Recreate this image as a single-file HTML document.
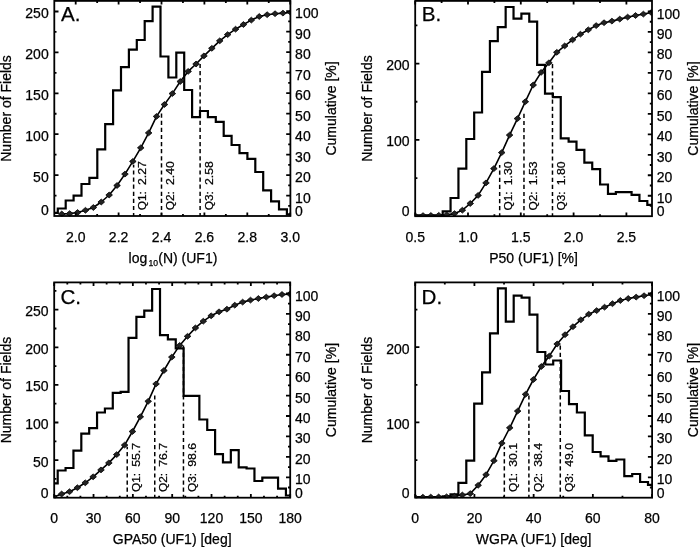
<!DOCTYPE html>
<html><head><meta charset="utf-8"><title>Figure</title><style>
html,body{margin:0;padding:0;background:#fff;}
svg{display:block;will-change:transform;}
text{font-family:"Liberation Sans",sans-serif;font-size:14px;fill:#000;stroke:#000;stroke-width:0.25px;}
text.q{font-size:11.3px;}
text.p{font-size:20.6px;}
</style></head><body>
<svg width="700" height="547" viewBox="0 0 700 547">
<rect width="700" height="547" fill="#fff"/>
<clipPath id="clip0"><rect x="54.3" y="-0.1" width="236.1" height="216.6"/></clipPath>
<g clip-path="url(#clip0)">
<path d="M52.3,216 L49.9,212.9 L57.8,212.9 L57.8,208.5 L65.7,208.5 L65.7,200.5 L73.6,200.5 L73.6,195.7 L81.5,195.7 L81.5,184 L89.4,184 L89.4,177.9 L97.3,177.9 L97.3,149.3 L105.2,149.3 L105.2,124.1 L113.1,124.1 L113.1,90.4 L121,90.4 L121,67.1 L128.9,67.1 L128.9,49.7 L136.8,49.7 L136.8,40 L144.7,40 L144.7,21.2 L152.6,21.2 L152.6,6.6 L160.5,6.6 L160.5,56.5 L168.4,56.5 L168.4,77.5 L176.3,77.5 L176.3,52.7 L184.2,52.7 L184.2,90 L192.1,90 L192.1,117.1 L200,117.1 L200,111 L207.9,111 L207.9,117.1 L215.8,117.1 L215.8,121.9 L223.7,121.9 L223.7,135.8 L231.6,135.8 L231.6,145 L239.5,145 L239.5,153.1 L247.4,153.1 L247.4,158.8 L255.3,158.8 L255.3,172 L263.2,172 L263.2,190.4 L271.1,190.4 L271.1,201.4 L279,201.4 L279,209.3 L286.9,209.3 L286.9,214.3 L294.8,214.3 L294.8,216" fill="none" stroke="#000" stroke-width="2.2" stroke-linejoin="miter" stroke-linecap="square"/>
<line x1="133.62" y1="216" x2="133.62" y2="164.85" stroke="#000" stroke-width="1.5" stroke-dasharray="4.2 2.9" stroke-dashoffset="1.2"/>
<line x1="161.5" y1="216" x2="161.5" y2="113.6" stroke="#000" stroke-width="1.5" stroke-dasharray="4.2 2.9" stroke-dashoffset="1.2"/>
<line x1="200.11" y1="216" x2="200.11" y2="62.35" stroke="#000" stroke-width="1.5" stroke-dasharray="4.2 2.9" stroke-dashoffset="1.2"/>
<path d="M61.75,214 L69.65,213.6 L77.55,212.5 L85.45,210.3 L93.35,207.5 L101.25,202 L109.15,195 L117.05,185.5 L124.95,174.1 L132.85,161.4 L140.75,147.8 L148.65,132.9 L156.55,116.4 L164.45,104.5 L172.35,93.6 L180.25,81.5 L188.15,71.4 L196.05,64 L203.95,55.9 L211.85,48.3 L219.75,40.8 L227.65,34.6 L235.55,29.2 L243.45,24.5 L251.35,20.1 L259.25,16.5 L267.15,14.7 L275.05,13.7 L282.95,13.1 L290.85,12.5" fill="none" stroke="#000" stroke-width="1.6" stroke-linejoin="round"/>
<path d="M58.45,214 l3.3,-2.9 l3.3,2.9 l-3.3,2.9 z" fill="#222" stroke="#000" stroke-width="0.8"/>
<path d="M66.35,213.6 l3.3,-2.9 l3.3,2.9 l-3.3,2.9 z" fill="#222" stroke="#000" stroke-width="0.8"/>
<path d="M74.25,212.5 l3.3,-2.9 l3.3,2.9 l-3.3,2.9 z" fill="#222" stroke="#000" stroke-width="0.8"/>
<path d="M82.15,210.3 l3.3,-2.9 l3.3,2.9 l-3.3,2.9 z" fill="#222" stroke="#000" stroke-width="0.8"/>
<path d="M90.05,207.5 l3.3,-2.9 l3.3,2.9 l-3.3,2.9 z" fill="#222" stroke="#000" stroke-width="0.8"/>
<path d="M97.95,202 l3.3,-2.9 l3.3,2.9 l-3.3,2.9 z" fill="#222" stroke="#000" stroke-width="0.8"/>
<path d="M105.85,195 l3.3,-2.9 l3.3,2.9 l-3.3,2.9 z" fill="#222" stroke="#000" stroke-width="0.8"/>
<path d="M113.75,185.5 l3.3,-2.9 l3.3,2.9 l-3.3,2.9 z" fill="#222" stroke="#000" stroke-width="0.8"/>
<path d="M121.65,174.1 l3.3,-2.9 l3.3,2.9 l-3.3,2.9 z" fill="#222" stroke="#000" stroke-width="0.8"/>
<path d="M129.55,161.4 l3.3,-2.9 l3.3,2.9 l-3.3,2.9 z" fill="#222" stroke="#000" stroke-width="0.8"/>
<path d="M137.45,147.8 l3.3,-2.9 l3.3,2.9 l-3.3,2.9 z" fill="#222" stroke="#000" stroke-width="0.8"/>
<path d="M145.35,132.9 l3.3,-2.9 l3.3,2.9 l-3.3,2.9 z" fill="#222" stroke="#000" stroke-width="0.8"/>
<path d="M153.25,116.4 l3.3,-2.9 l3.3,2.9 l-3.3,2.9 z" fill="#222" stroke="#000" stroke-width="0.8"/>
<path d="M161.15,104.5 l3.3,-2.9 l3.3,2.9 l-3.3,2.9 z" fill="#222" stroke="#000" stroke-width="0.8"/>
<path d="M169.05,93.6 l3.3,-2.9 l3.3,2.9 l-3.3,2.9 z" fill="#222" stroke="#000" stroke-width="0.8"/>
<path d="M176.95,81.5 l3.3,-2.9 l3.3,2.9 l-3.3,2.9 z" fill="#222" stroke="#000" stroke-width="0.8"/>
<path d="M184.85,71.4 l3.3,-2.9 l3.3,2.9 l-3.3,2.9 z" fill="#222" stroke="#000" stroke-width="0.8"/>
<path d="M192.75,64 l3.3,-2.9 l3.3,2.9 l-3.3,2.9 z" fill="#222" stroke="#000" stroke-width="0.8"/>
<path d="M200.65,55.9 l3.3,-2.9 l3.3,2.9 l-3.3,2.9 z" fill="#222" stroke="#000" stroke-width="0.8"/>
<path d="M208.55,48.3 l3.3,-2.9 l3.3,2.9 l-3.3,2.9 z" fill="#222" stroke="#000" stroke-width="0.8"/>
<path d="M216.45,40.8 l3.3,-2.9 l3.3,2.9 l-3.3,2.9 z" fill="#222" stroke="#000" stroke-width="0.8"/>
<path d="M224.35,34.6 l3.3,-2.9 l3.3,2.9 l-3.3,2.9 z" fill="#222" stroke="#000" stroke-width="0.8"/>
<path d="M232.25,29.2 l3.3,-2.9 l3.3,2.9 l-3.3,2.9 z" fill="#222" stroke="#000" stroke-width="0.8"/>
<path d="M240.15,24.5 l3.3,-2.9 l3.3,2.9 l-3.3,2.9 z" fill="#222" stroke="#000" stroke-width="0.8"/>
<path d="M248.05,20.1 l3.3,-2.9 l3.3,2.9 l-3.3,2.9 z" fill="#222" stroke="#000" stroke-width="0.8"/>
<path d="M255.95,16.5 l3.3,-2.9 l3.3,2.9 l-3.3,2.9 z" fill="#222" stroke="#000" stroke-width="0.8"/>
<path d="M263.85,14.7 l3.3,-2.9 l3.3,2.9 l-3.3,2.9 z" fill="#222" stroke="#000" stroke-width="0.8"/>
<path d="M271.75,13.7 l3.3,-2.9 l3.3,2.9 l-3.3,2.9 z" fill="#222" stroke="#000" stroke-width="0.8"/>
<path d="M279.65,13.1 l3.3,-2.9 l3.3,2.9 l-3.3,2.9 z" fill="#222" stroke="#000" stroke-width="0.8"/>
<path d="M287.55,12.5 l3.3,-2.9 l3.3,2.9 l-3.3,2.9 z" fill="#222" stroke="#000" stroke-width="0.8"/>
</g>
<rect x="54.3" y="0.9" width="236.1" height="215.1" fill="none" stroke="#000" stroke-width="1.8"/>
<path d="M75.7,216L75.7,212.4M75.7,0.9L75.7,4.5M118.6,216L118.6,212.4M118.6,0.9L118.6,4.5M161.5,216L161.5,212.4M161.5,0.9L161.5,4.5M204.4,216L204.4,212.4M204.4,0.9L204.4,4.5M247.3,216L247.3,212.4M247.3,0.9L247.3,4.5M290.2,216L290.2,212.4M290.2,0.9L290.2,4.5M97.15,216L97.15,214M97.15,0.9L97.15,2.9M140.05,216L140.05,214M140.05,0.9L140.05,2.9M182.95,216L182.95,214M182.95,0.9L182.95,2.9M225.85,216L225.85,214M225.85,0.9L225.85,2.9M268.75,216L268.75,214M268.75,0.9L268.75,2.9M54.3,175.1L58.5,175.1M54.3,134.2L58.5,134.2M54.3,93.3L58.5,93.3M54.3,52.4L58.5,52.4M54.3,11.5L58.5,11.5M54.3,195.55L56.5,195.55M54.3,154.65L56.5,154.65M54.3,113.75L56.5,113.75M54.3,72.85L56.5,72.85M54.3,31.95L56.5,31.95M290.4,195.6L286.2,195.6M290.4,175.1L286.2,175.1M290.4,154.6L286.2,154.6M290.4,134.1L286.2,134.1M290.4,113.6L286.2,113.6M290.4,93.1L286.2,93.1M290.4,72.6L286.2,72.6M290.4,52.1L286.2,52.1M290.4,31.6L286.2,31.6M290.4,11.1L286.2,11.1M290.4,205.85L288.2,205.85M290.4,185.35L288.2,185.35M290.4,164.85L288.2,164.85M290.4,144.35L288.2,144.35M290.4,123.85L288.2,123.85M290.4,103.35L288.2,103.35M290.4,82.85L288.2,82.85M290.4,62.35L288.2,62.35M290.4,41.85L288.2,41.85M290.4,21.35L288.2,21.35" stroke="#000" stroke-width="1.8" fill="none"/>
<text x="75.7" y="241.5" text-anchor="middle">2.0</text>
<text x="118.6" y="241.5" text-anchor="middle">2.2</text>
<text x="161.5" y="241.5" text-anchor="middle">2.4</text>
<text x="204.4" y="241.5" text-anchor="middle">2.6</text>
<text x="247.3" y="241.5" text-anchor="middle">2.8</text>
<text x="290.2" y="241.5" text-anchor="middle">3.0</text>
<text x="48.7" y="215.2" text-anchor="end">0</text>
<text x="48.7" y="181.6" text-anchor="end">50</text>
<text x="48.7" y="140.7" text-anchor="end">100</text>
<text x="48.7" y="99.8" text-anchor="end">150</text>
<text x="48.7" y="58.9" text-anchor="end">200</text>
<text x="48.7" y="18" text-anchor="end">250</text>
<text x="295.1" y="216.2">0</text>
<text x="295.1" y="202.6">10</text>
<text x="295.1" y="182.1">20</text>
<text x="295.1" y="161.6">30</text>
<text x="295.1" y="141.1">40</text>
<text x="295.1" y="120.6">50</text>
<text x="295.1" y="100.1">60</text>
<text x="295.1" y="79.6">70</text>
<text x="295.1" y="59.1">80</text>
<text x="295.1" y="38.6">90</text>
<text x="295.1" y="18.1">100</text>
<text class="q" transform="translate(146.22,210.3) rotate(-90) scale(1.05,1)">Q1:</text>
<text class="q" transform="translate(146.22,185) rotate(-90) scale(1.08,1)">2.27</text>
<text class="q" transform="translate(174.1,210.3) rotate(-90) scale(1.05,1)">Q2:</text>
<text class="q" transform="translate(174.1,185) rotate(-90) scale(1.08,1)">2.40</text>
<text class="q" transform="translate(212.71,210.3) rotate(-90) scale(1.05,1)">Q3:</text>
<text class="q" transform="translate(212.71,185) rotate(-90) scale(1.08,1)">2.58</text>
<text class="p" x="60.9" y="21.2">A.</text>
<text x="172.95" y="262.5" text-anchor="middle">log<tspan font-size="8.6" dx="1.2" dy="3.8">10</tspan><tspan dx="0.3" dy="-3.8">(N) (UF1)</tspan></text>
<text transform="translate(10.6,108.45) rotate(-90)" text-anchor="middle">Number of Fields</text>
<text transform="translate(336.2,108.45) rotate(-90)" text-anchor="middle">Cumulative [%]</text>
<clipPath id="clip1"><rect x="415.2" y="-0.1" width="236.8" height="216.8"/></clipPath>
<g clip-path="url(#clip1)">
<path d="M413.2,216.2 L403.35,215.4 L411.22,215.4 L411.22,215.4 L419.09,215.4 L419.09,215.4 L426.96,215.4 L426.96,215.4 L434.83,215.4 L434.83,216.2 L442.7,216.2 L442.7,211.4 L450.57,211.4 L450.57,198 L458.44,198 L458.44,168.6 L466.31,168.6 L466.31,139 L474.18,139 L474.18,112.5 L482.05,112.5 L482.05,71.9 L489.92,71.9 L489.92,41.2 L497.79,41.2 L497.79,27.1 L505.66,27.1 L505.66,7 L513.53,7 L513.53,18.7 L521.4,18.7 L521.4,13.7 L529.27,13.7 L529.27,21.7 L537.14,21.7 L537.14,64.8 L545.01,64.8 L545.01,93.6 L552.88,93.6 L552.88,97.2 L560.75,97.2 L560.75,138.4 L568.62,138.4 L568.62,141.7 L576.49,141.7 L576.49,149.8 L584.36,149.8 L584.36,162.6 L592.23,162.6 L592.23,169.1 L600.1,169.1 L600.1,184.5 L607.97,184.5 L607.97,193.9 L615.84,193.9 L615.84,192.2 L623.71,192.2 L623.71,192.2 L631.58,192.2 L631.58,194.8 L639.45,194.8 L639.45,201 L647.32,201 L647.32,204.9 L655.19,204.9 L655.19,216.2" fill="none" stroke="#000" stroke-width="2.2" stroke-linejoin="miter" stroke-linecap="square"/>
<line x1="499.68" y1="216.2" x2="499.68" y2="165.02" stroke="#000" stroke-width="1.5" stroke-dasharray="4.2 2.9" stroke-dashoffset="1.2"/>
<line x1="523.97" y1="216.2" x2="523.97" y2="113.85" stroke="#000" stroke-width="1.5" stroke-dasharray="4.2 2.9" stroke-dashoffset="1.2"/>
<line x1="552.48" y1="216.2" x2="552.48" y2="62.67" stroke="#000" stroke-width="1.5" stroke-dasharray="4.2 2.9" stroke-dashoffset="1.2"/>
<path d="M415.15,215.8 L423.02,215.6 L430.89,215.5 L438.76,215.3 L446.63,214.9 L454.5,213.6 L462.38,210.2 L470.25,203.5 L478.12,195.4 L485.99,182.9 L493.86,168.6 L501.72,152.6 L509.59,135.1 L517.47,118.6 L525.34,101.7 L533.2,85 L541.08,72.4 L548.94,62.8 L556.81,52.3 L564.68,45.9 L572.55,39.8 L580.42,34.2 L588.29,29.8 L596.16,25.6 L604.03,22.7 L611.9,21.1 L619.77,19.1 L627.64,17.1 L635.51,15.5 L643.38,14.1 L651.25,12.5" fill="none" stroke="#000" stroke-width="1.6" stroke-linejoin="round"/>
<path d="M411.85,215.8 l3.3,-2.9 l3.3,2.9 l-3.3,2.9 z" fill="#222" stroke="#000" stroke-width="0.8"/>
<path d="M419.72,215.6 l3.3,-2.9 l3.3,2.9 l-3.3,2.9 z" fill="#222" stroke="#000" stroke-width="0.8"/>
<path d="M427.59,215.5 l3.3,-2.9 l3.3,2.9 l-3.3,2.9 z" fill="#222" stroke="#000" stroke-width="0.8"/>
<path d="M435.46,215.3 l3.3,-2.9 l3.3,2.9 l-3.3,2.9 z" fill="#222" stroke="#000" stroke-width="0.8"/>
<path d="M443.33,214.9 l3.3,-2.9 l3.3,2.9 l-3.3,2.9 z" fill="#222" stroke="#000" stroke-width="0.8"/>
<path d="M451.2,213.6 l3.3,-2.9 l3.3,2.9 l-3.3,2.9 z" fill="#222" stroke="#000" stroke-width="0.8"/>
<path d="M459.07,210.2 l3.3,-2.9 l3.3,2.9 l-3.3,2.9 z" fill="#222" stroke="#000" stroke-width="0.8"/>
<path d="M466.94,203.5 l3.3,-2.9 l3.3,2.9 l-3.3,2.9 z" fill="#222" stroke="#000" stroke-width="0.8"/>
<path d="M474.81,195.4 l3.3,-2.9 l3.3,2.9 l-3.3,2.9 z" fill="#222" stroke="#000" stroke-width="0.8"/>
<path d="M482.69,182.9 l3.3,-2.9 l3.3,2.9 l-3.3,2.9 z" fill="#222" stroke="#000" stroke-width="0.8"/>
<path d="M490.56,168.6 l3.3,-2.9 l3.3,2.9 l-3.3,2.9 z" fill="#222" stroke="#000" stroke-width="0.8"/>
<path d="M498.42,152.6 l3.3,-2.9 l3.3,2.9 l-3.3,2.9 z" fill="#222" stroke="#000" stroke-width="0.8"/>
<path d="M506.29,135.1 l3.3,-2.9 l3.3,2.9 l-3.3,2.9 z" fill="#222" stroke="#000" stroke-width="0.8"/>
<path d="M514.17,118.6 l3.3,-2.9 l3.3,2.9 l-3.3,2.9 z" fill="#222" stroke="#000" stroke-width="0.8"/>
<path d="M522.04,101.7 l3.3,-2.9 l3.3,2.9 l-3.3,2.9 z" fill="#222" stroke="#000" stroke-width="0.8"/>
<path d="M529.9,85 l3.3,-2.9 l3.3,2.9 l-3.3,2.9 z" fill="#222" stroke="#000" stroke-width="0.8"/>
<path d="M537.78,72.4 l3.3,-2.9 l3.3,2.9 l-3.3,2.9 z" fill="#222" stroke="#000" stroke-width="0.8"/>
<path d="M545.64,62.8 l3.3,-2.9 l3.3,2.9 l-3.3,2.9 z" fill="#222" stroke="#000" stroke-width="0.8"/>
<path d="M553.51,52.3 l3.3,-2.9 l3.3,2.9 l-3.3,2.9 z" fill="#222" stroke="#000" stroke-width="0.8"/>
<path d="M561.38,45.9 l3.3,-2.9 l3.3,2.9 l-3.3,2.9 z" fill="#222" stroke="#000" stroke-width="0.8"/>
<path d="M569.25,39.8 l3.3,-2.9 l3.3,2.9 l-3.3,2.9 z" fill="#222" stroke="#000" stroke-width="0.8"/>
<path d="M577.12,34.2 l3.3,-2.9 l3.3,2.9 l-3.3,2.9 z" fill="#222" stroke="#000" stroke-width="0.8"/>
<path d="M585,29.8 l3.3,-2.9 l3.3,2.9 l-3.3,2.9 z" fill="#222" stroke="#000" stroke-width="0.8"/>
<path d="M592.87,25.6 l3.3,-2.9 l3.3,2.9 l-3.3,2.9 z" fill="#222" stroke="#000" stroke-width="0.8"/>
<path d="M600.74,22.7 l3.3,-2.9 l3.3,2.9 l-3.3,2.9 z" fill="#222" stroke="#000" stroke-width="0.8"/>
<path d="M608.61,21.1 l3.3,-2.9 l3.3,2.9 l-3.3,2.9 z" fill="#222" stroke="#000" stroke-width="0.8"/>
<path d="M616.48,19.1 l3.3,-2.9 l3.3,2.9 l-3.3,2.9 z" fill="#222" stroke="#000" stroke-width="0.8"/>
<path d="M624.35,17.1 l3.3,-2.9 l3.3,2.9 l-3.3,2.9 z" fill="#222" stroke="#000" stroke-width="0.8"/>
<path d="M632.22,15.5 l3.3,-2.9 l3.3,2.9 l-3.3,2.9 z" fill="#222" stroke="#000" stroke-width="0.8"/>
<path d="M640.09,14.1 l3.3,-2.9 l3.3,2.9 l-3.3,2.9 z" fill="#222" stroke="#000" stroke-width="0.8"/>
<path d="M647.96,12.5 l3.3,-2.9 l3.3,2.9 l-3.3,2.9 z" fill="#222" stroke="#000" stroke-width="0.8"/>
</g>
<rect x="415.2" y="0.9" width="236.8" height="215.3" fill="none" stroke="#000" stroke-width="1.8"/>
<path d="M415.2,216.2L415.2,212.6M415.2,0.9L415.2,4.5M468,216.2L468,212.6M468,0.9L468,4.5M520.8,216.2L520.8,212.6M520.8,0.9L520.8,4.5M573.6,216.2L573.6,212.6M573.6,0.9L573.6,4.5M626.4,216.2L626.4,212.6M626.4,0.9L626.4,4.5M441.6,216.2L441.6,214.2M441.6,0.9L441.6,2.9M494.4,216.2L494.4,214.2M494.4,0.9L494.4,2.9M547.2,216.2L547.2,214.2M547.2,0.9L547.2,2.9M600,216.2L600,214.2M600,0.9L600,2.9M415.2,139.9L419.4,139.9M415.2,63.6L419.4,63.6M415.2,178.05L417.4,178.05M415.2,101.75L417.4,101.75M415.2,25.45L417.4,25.45M652,195.73L647.8,195.73M652,175.26L647.8,175.26M652,154.79L647.8,154.79M652,134.32L647.8,134.32M652,113.85L647.8,113.85M652,93.38L647.8,93.38M652,72.91L647.8,72.91M652,52.44L647.8,52.44M652,31.97L647.8,31.97M652,11.5L647.8,11.5M652,205.96L649.8,205.96M652,185.49L649.8,185.49M652,165.02L649.8,165.02M652,144.55L649.8,144.55M652,124.08L649.8,124.08M652,103.61L649.8,103.61M652,83.14L649.8,83.14M652,62.67L649.8,62.67M652,42.2L649.8,42.2M652,21.73L649.8,21.73" stroke="#000" stroke-width="1.8" fill="none"/>
<text x="415.2" y="241.7" text-anchor="middle">0.5</text>
<text x="468" y="241.7" text-anchor="middle">1.0</text>
<text x="520.8" y="241.7" text-anchor="middle">1.5</text>
<text x="573.6" y="241.7" text-anchor="middle">2.0</text>
<text x="626.4" y="241.7" text-anchor="middle">2.5</text>
<text x="409.6" y="216.2" text-anchor="end">0</text>
<text x="409.6" y="146.4" text-anchor="end">100</text>
<text x="409.6" y="70.1" text-anchor="end">200</text>
<text x="656.7" y="216.4">0</text>
<text x="656.7" y="202.73">10</text>
<text x="656.7" y="182.26">20</text>
<text x="656.7" y="161.79">30</text>
<text x="656.7" y="141.32">40</text>
<text x="656.7" y="120.85">50</text>
<text x="656.7" y="100.38">60</text>
<text x="656.7" y="79.91">70</text>
<text x="656.7" y="59.44">80</text>
<text x="656.7" y="38.97">90</text>
<text x="656.7" y="18.5">100</text>
<text class="q" transform="translate(512.28,210.5) rotate(-90) scale(1.05,1)">Q1:</text>
<text class="q" transform="translate(512.28,185.2) rotate(-90) scale(1.08,1)">1.30</text>
<text class="q" transform="translate(536.57,210.5) rotate(-90) scale(1.05,1)">Q2:</text>
<text class="q" transform="translate(536.57,185.2) rotate(-90) scale(1.08,1)">1.53</text>
<text class="q" transform="translate(565.08,210.5) rotate(-90) scale(1.05,1)">Q3:</text>
<text class="q" transform="translate(565.08,185.2) rotate(-90) scale(1.08,1)">1.80</text>
<text class="p" x="421.8" y="21.4">B.</text>
<text x="533.6" y="262.7" text-anchor="middle">P50 (UF1) [%]</text>
<text transform="translate(371.5,108.55) rotate(-90)" text-anchor="middle">Number of Fields</text>
<text transform="translate(697.8,108.55) rotate(-90)" text-anchor="middle">Cumulative [%]</text>
<clipPath id="clip2"><rect x="54.2" y="281.4" width="236" height="216.8"/></clipPath>
<g clip-path="url(#clip2)">
<path d="M52.2,497.7 L49.83,483.4 L57.7,483.4 L57.7,470.5 L65.57,470.5 L65.57,468 L73.44,468 L73.44,450.6 L81.31,450.6 L81.31,433.7 L89.18,433.7 L89.18,428.2 L97.05,428.2 L97.05,412.5 L104.92,412.5 L104.92,408.5 L112.79,408.5 L112.79,392.8 L120.66,392.8 L120.66,391.9 L128.53,391.9 L128.53,337.9 L136.4,337.9 L136.4,316.8 L144.27,316.8 L144.27,310.7 L152.14,310.7 L152.14,289 L160.01,289 L160.01,335.2 L167.88,335.2 L167.88,339.4 L175.75,339.4 L175.75,348.4 L183.62,348.4 L183.62,395.8 L191.49,395.8 L191.49,395.8 L199.36,395.8 L199.36,419.5 L207.23,419.5 L207.23,430 L215.1,430 L215.1,454.2 L222.97,454.2 L222.97,462.3 L230.84,462.3 L230.84,450.2 L238.71,450.2 L238.71,467.4 L246.58,467.4 L246.58,468.5 L254.45,468.5 L254.45,481 L262.32,481 L262.32,477.7 L270.19,477.7 L270.19,477.7 L278.06,477.7 L278.06,488.6 L285.93,488.6 L285.93,495.5 L293.8,495.5 L293.8,497.7" fill="none" stroke="#000" stroke-width="2.2" stroke-linejoin="miter" stroke-linecap="square"/>
<line x1="127.22" y1="497.7" x2="127.22" y2="446.65" stroke="#000" stroke-width="1.5" stroke-dasharray="4.2 2.9" stroke-dashoffset="1.2"/>
<line x1="154.75" y1="497.7" x2="154.75" y2="395.6" stroke="#000" stroke-width="1.5" stroke-dasharray="4.2 2.9" stroke-dashoffset="1.2"/>
<line x1="183.46" y1="497.7" x2="183.46" y2="344.55" stroke="#000" stroke-width="1.5" stroke-dasharray="4.2 2.9" stroke-dashoffset="1.2"/>
<path d="M53.77,497 L61.64,494 L69.5,491.7 L77.38,487.7 L85.25,482.8 L93.12,476.8 L100.99,469.9 L108.86,462.9 L116.72,454.6 L124.59,445.1 L132.47,431.5 L140.34,416.8 L148.2,401.3 L156.07,383.9 L163.94,370.5 L171.81,357.1 L179.69,345.4 L187.56,336.3 L195.43,327.9 L203.3,321.2 L211.17,315.8 L219.04,311.8 L226.91,309.2 L234.77,305.2 L242.64,302.1 L250.51,300.1 L258.38,298.5 L266.25,297.1 L274.12,295.7 L282,294.5 L289.87,294.1" fill="none" stroke="#000" stroke-width="1.6" stroke-linejoin="round"/>
<path d="M50.47,497 l3.3,-2.9 l3.3,2.9 l-3.3,2.9 z" fill="#222" stroke="#000" stroke-width="0.8"/>
<path d="M58.34,494 l3.3,-2.9 l3.3,2.9 l-3.3,2.9 z" fill="#222" stroke="#000" stroke-width="0.8"/>
<path d="M66.2,491.7 l3.3,-2.9 l3.3,2.9 l-3.3,2.9 z" fill="#222" stroke="#000" stroke-width="0.8"/>
<path d="M74.08,487.7 l3.3,-2.9 l3.3,2.9 l-3.3,2.9 z" fill="#222" stroke="#000" stroke-width="0.8"/>
<path d="M81.95,482.8 l3.3,-2.9 l3.3,2.9 l-3.3,2.9 z" fill="#222" stroke="#000" stroke-width="0.8"/>
<path d="M89.82,476.8 l3.3,-2.9 l3.3,2.9 l-3.3,2.9 z" fill="#222" stroke="#000" stroke-width="0.8"/>
<path d="M97.69,469.9 l3.3,-2.9 l3.3,2.9 l-3.3,2.9 z" fill="#222" stroke="#000" stroke-width="0.8"/>
<path d="M105.56,462.9 l3.3,-2.9 l3.3,2.9 l-3.3,2.9 z" fill="#222" stroke="#000" stroke-width="0.8"/>
<path d="M113.42,454.6 l3.3,-2.9 l3.3,2.9 l-3.3,2.9 z" fill="#222" stroke="#000" stroke-width="0.8"/>
<path d="M121.3,445.1 l3.3,-2.9 l3.3,2.9 l-3.3,2.9 z" fill="#222" stroke="#000" stroke-width="0.8"/>
<path d="M129.16,431.5 l3.3,-2.9 l3.3,2.9 l-3.3,2.9 z" fill="#222" stroke="#000" stroke-width="0.8"/>
<path d="M137.03,416.8 l3.3,-2.9 l3.3,2.9 l-3.3,2.9 z" fill="#222" stroke="#000" stroke-width="0.8"/>
<path d="M144.9,401.3 l3.3,-2.9 l3.3,2.9 l-3.3,2.9 z" fill="#222" stroke="#000" stroke-width="0.8"/>
<path d="M152.77,383.9 l3.3,-2.9 l3.3,2.9 l-3.3,2.9 z" fill="#222" stroke="#000" stroke-width="0.8"/>
<path d="M160.64,370.5 l3.3,-2.9 l3.3,2.9 l-3.3,2.9 z" fill="#222" stroke="#000" stroke-width="0.8"/>
<path d="M168.51,357.1 l3.3,-2.9 l3.3,2.9 l-3.3,2.9 z" fill="#222" stroke="#000" stroke-width="0.8"/>
<path d="M176.38,345.4 l3.3,-2.9 l3.3,2.9 l-3.3,2.9 z" fill="#222" stroke="#000" stroke-width="0.8"/>
<path d="M184.25,336.3 l3.3,-2.9 l3.3,2.9 l-3.3,2.9 z" fill="#222" stroke="#000" stroke-width="0.8"/>
<path d="M192.12,327.9 l3.3,-2.9 l3.3,2.9 l-3.3,2.9 z" fill="#222" stroke="#000" stroke-width="0.8"/>
<path d="M200,321.2 l3.3,-2.9 l3.3,2.9 l-3.3,2.9 z" fill="#222" stroke="#000" stroke-width="0.8"/>
<path d="M207.87,315.8 l3.3,-2.9 l3.3,2.9 l-3.3,2.9 z" fill="#222" stroke="#000" stroke-width="0.8"/>
<path d="M215.74,311.8 l3.3,-2.9 l3.3,2.9 l-3.3,2.9 z" fill="#222" stroke="#000" stroke-width="0.8"/>
<path d="M223.61,309.2 l3.3,-2.9 l3.3,2.9 l-3.3,2.9 z" fill="#222" stroke="#000" stroke-width="0.8"/>
<path d="M231.47,305.2 l3.3,-2.9 l3.3,2.9 l-3.3,2.9 z" fill="#222" stroke="#000" stroke-width="0.8"/>
<path d="M239.34,302.1 l3.3,-2.9 l3.3,2.9 l-3.3,2.9 z" fill="#222" stroke="#000" stroke-width="0.8"/>
<path d="M247.21,300.1 l3.3,-2.9 l3.3,2.9 l-3.3,2.9 z" fill="#222" stroke="#000" stroke-width="0.8"/>
<path d="M255.08,298.5 l3.3,-2.9 l3.3,2.9 l-3.3,2.9 z" fill="#222" stroke="#000" stroke-width="0.8"/>
<path d="M262.95,297.1 l3.3,-2.9 l3.3,2.9 l-3.3,2.9 z" fill="#222" stroke="#000" stroke-width="0.8"/>
<path d="M270.82,295.7 l3.3,-2.9 l3.3,2.9 l-3.3,2.9 z" fill="#222" stroke="#000" stroke-width="0.8"/>
<path d="M278.69,294.5 l3.3,-2.9 l3.3,2.9 l-3.3,2.9 z" fill="#222" stroke="#000" stroke-width="0.8"/>
<path d="M286.56,294.1 l3.3,-2.9 l3.3,2.9 l-3.3,2.9 z" fill="#222" stroke="#000" stroke-width="0.8"/>
</g>
<rect x="54.2" y="282.4" width="236" height="215.3" fill="none" stroke="#000" stroke-width="1.8"/>
<path d="M54.2,497.7L54.2,494.1M54.2,282.4L54.2,286M93.53,497.7L93.53,494.1M93.53,282.4L93.53,286M132.86,497.7L132.86,494.1M132.86,282.4L132.86,286M172.19,497.7L172.19,494.1M172.19,282.4L172.19,286M211.52,497.7L211.52,494.1M211.52,282.4L211.52,286M250.85,497.7L250.85,494.1M250.85,282.4L250.85,286M290.18,497.7L290.18,494.1M290.18,282.4L290.18,286M67.31,497.7L67.31,495.7M67.31,282.4L67.31,284.4M80.42,497.7L80.42,495.7M80.42,282.4L80.42,284.4M106.64,497.7L106.64,495.7M106.64,282.4L106.64,284.4M119.75,497.7L119.75,495.7M119.75,282.4L119.75,284.4M145.97,497.7L145.97,495.7M145.97,282.4L145.97,284.4M159.08,497.7L159.08,495.7M159.08,282.4L159.08,284.4M185.3,497.7L185.3,495.7M185.3,282.4L185.3,284.4M198.41,497.7L198.41,495.7M198.41,282.4L198.41,284.4M224.63,497.7L224.63,495.7M224.63,282.4L224.63,284.4M237.74,497.7L237.74,495.7M237.74,282.4L237.74,284.4M263.96,497.7L263.96,495.7M263.96,282.4L263.96,284.4M277.07,497.7L277.07,495.7M277.07,282.4L277.07,284.4M54.2,460.1L58.4,460.1M54.2,422.5L58.4,422.5M54.2,384.9L58.4,384.9M54.2,347.3L58.4,347.3M54.2,309.7L58.4,309.7M54.2,478.9L56.4,478.9M54.2,441.3L56.4,441.3M54.2,403.7L56.4,403.7M54.2,366.1L56.4,366.1M54.2,328.5L56.4,328.5M54.2,290.9L56.4,290.9M290.2,477.28L286,477.28M290.2,456.86L286,456.86M290.2,436.44L286,436.44M290.2,416.02L286,416.02M290.2,395.6L286,395.6M290.2,375.18L286,375.18M290.2,354.76L286,354.76M290.2,334.34L286,334.34M290.2,313.92L286,313.92M290.2,293.5L286,293.5M290.2,487.49L288,487.49M290.2,467.07L288,467.07M290.2,446.65L288,446.65M290.2,426.23L288,426.23M290.2,405.81L288,405.81M290.2,385.39L288,385.39M290.2,364.97L288,364.97M290.2,344.55L288,344.55M290.2,324.13L288,324.13M290.2,303.71L288,303.71" stroke="#000" stroke-width="1.8" fill="none"/>
<text x="54.2" y="523.2" text-anchor="middle">0</text>
<text x="93.53" y="523.2" text-anchor="middle">30</text>
<text x="132.86" y="523.2" text-anchor="middle">60</text>
<text x="172.19" y="523.2" text-anchor="middle">90</text>
<text x="211.52" y="523.2" text-anchor="middle">120</text>
<text x="250.85" y="523.2" text-anchor="middle">150</text>
<text x="290.18" y="523.2" text-anchor="middle">180</text>
<text x="48.6" y="497.6" text-anchor="end">0</text>
<text x="48.6" y="466.6" text-anchor="end">50</text>
<text x="48.6" y="429" text-anchor="end">100</text>
<text x="48.6" y="391.4" text-anchor="end">150</text>
<text x="48.6" y="353.8" text-anchor="end">200</text>
<text x="48.6" y="316.2" text-anchor="end">250</text>
<text x="294.9" y="497.9">0</text>
<text x="294.9" y="484.28">10</text>
<text x="294.9" y="463.86">20</text>
<text x="294.9" y="443.44">30</text>
<text x="294.9" y="423.02">40</text>
<text x="294.9" y="402.6">50</text>
<text x="294.9" y="382.18">60</text>
<text x="294.9" y="361.76">70</text>
<text x="294.9" y="341.34">80</text>
<text x="294.9" y="320.92">90</text>
<text x="294.9" y="300.5">100</text>
<text class="q" transform="translate(139.82,492) rotate(-90) scale(1.05,1)">Q1:</text>
<text class="q" transform="translate(139.82,466.7) rotate(-90) scale(1.08,1)">55.7</text>
<text class="q" transform="translate(167.35,492) rotate(-90) scale(1.05,1)">Q2:</text>
<text class="q" transform="translate(167.35,466.7) rotate(-90) scale(1.08,1)">76.7</text>
<text class="q" transform="translate(196.06,492) rotate(-90) scale(1.05,1)">Q3:</text>
<text class="q" transform="translate(196.06,466.7) rotate(-90) scale(1.08,1)">98.6</text>
<text class="p" x="60.4" y="303.6">C.</text>
<text x="172.2" y="544.2" text-anchor="middle">GPA50 (UF1) [deg]</text>
<text transform="translate(10.5,390.05) rotate(-90)" text-anchor="middle">Number of Fields</text>
<text transform="translate(336,390.05) rotate(-90)" text-anchor="middle">Cumulative [%]</text>
<clipPath id="clip3"><rect x="415.2" y="281.4" width="236.9" height="216.8"/></clipPath>
<g clip-path="url(#clip3)">
<path d="M413.2,497.7 L411,497 L418.9,497 L418.9,497 L426.8,497 L426.8,497 L434.7,497 L434.7,497 L442.6,497 L442.6,496.3 L450.5,496.3 L450.5,494.3 L458.4,494.3 L458.4,482.8 L466.3,482.8 L466.3,460.7 L474.2,460.7 L474.2,403.7 L482.1,403.7 L482.1,372.4 L490,372.4 L490,333.3 L497.9,333.3 L497.9,288.4 L505.8,288.4 L505.8,321.6 L513.7,321.6 L513.7,295.7 L521.6,295.7 L521.6,297.7 L529.5,297.7 L529.5,314.6 L537.4,314.6 L537.4,352 L545.3,352 L545.3,364.5 L553.2,364.5 L553.2,360.5 L561.1,360.5 L561.1,391 L569,391 L569,404.1 L576.9,404.1 L576.9,412.5 L584.8,412.5 L584.8,435.3 L592.7,435.3 L592.7,452 L600.6,452 L600.6,456.4 L608.5,456.4 L608.5,460.8 L616.4,460.8 L616.4,459.5 L624.3,459.5 L624.3,476.1 L632.2,476.1 L632.2,474 L640.1,474 L640.1,482 L648,482 L648,484.9 L655.9,484.9 L655.9,497.7" fill="none" stroke="#000" stroke-width="2.2" stroke-linejoin="miter" stroke-linecap="square"/>
<line x1="504.33" y1="497.7" x2="504.33" y2="446.65" stroke="#000" stroke-width="1.5" stroke-dasharray="4.2 2.9" stroke-dashoffset="1.2"/>
<line x1="528.9" y1="497.7" x2="528.9" y2="395.6" stroke="#000" stroke-width="1.5" stroke-dasharray="4.2 2.9" stroke-dashoffset="1.2"/>
<line x1="560.29" y1="497.7" x2="560.29" y2="344.55" stroke="#000" stroke-width="1.5" stroke-dasharray="4.2 2.9" stroke-dashoffset="1.2"/>
<path d="M414.95,497.3 L422.85,497.2 L430.75,497.1 L438.65,497 L446.55,496.8 L454.45,496.2 L462.35,495 L470.25,493.6 L478.15,485.3 L486.05,474.7 L493.95,460.7 L501.85,443.2 L509.75,427.8 L517.65,411.1 L525.55,394.3 L533.45,379.5 L541.35,366.5 L549.25,356.1 L557.15,344 L565.05,334.7 L572.95,326.7 L580.85,319.8 L588.75,314.2 L596.65,310.6 L604.55,307.2 L612.45,303.7 L620.35,300.5 L628.25,298.5 L636.15,297.1 L644.05,295.7 L651.95,294.5" fill="none" stroke="#000" stroke-width="1.6" stroke-linejoin="round"/>
<path d="M411.65,497.3 l3.3,-2.9 l3.3,2.9 l-3.3,2.9 z" fill="#222" stroke="#000" stroke-width="0.8"/>
<path d="M419.55,497.2 l3.3,-2.9 l3.3,2.9 l-3.3,2.9 z" fill="#222" stroke="#000" stroke-width="0.8"/>
<path d="M427.45,497.1 l3.3,-2.9 l3.3,2.9 l-3.3,2.9 z" fill="#222" stroke="#000" stroke-width="0.8"/>
<path d="M435.35,497 l3.3,-2.9 l3.3,2.9 l-3.3,2.9 z" fill="#222" stroke="#000" stroke-width="0.8"/>
<path d="M443.25,496.8 l3.3,-2.9 l3.3,2.9 l-3.3,2.9 z" fill="#222" stroke="#000" stroke-width="0.8"/>
<path d="M451.15,496.2 l3.3,-2.9 l3.3,2.9 l-3.3,2.9 z" fill="#222" stroke="#000" stroke-width="0.8"/>
<path d="M459.05,495 l3.3,-2.9 l3.3,2.9 l-3.3,2.9 z" fill="#222" stroke="#000" stroke-width="0.8"/>
<path d="M466.95,493.6 l3.3,-2.9 l3.3,2.9 l-3.3,2.9 z" fill="#222" stroke="#000" stroke-width="0.8"/>
<path d="M474.85,485.3 l3.3,-2.9 l3.3,2.9 l-3.3,2.9 z" fill="#222" stroke="#000" stroke-width="0.8"/>
<path d="M482.75,474.7 l3.3,-2.9 l3.3,2.9 l-3.3,2.9 z" fill="#222" stroke="#000" stroke-width="0.8"/>
<path d="M490.65,460.7 l3.3,-2.9 l3.3,2.9 l-3.3,2.9 z" fill="#222" stroke="#000" stroke-width="0.8"/>
<path d="M498.55,443.2 l3.3,-2.9 l3.3,2.9 l-3.3,2.9 z" fill="#222" stroke="#000" stroke-width="0.8"/>
<path d="M506.45,427.8 l3.3,-2.9 l3.3,2.9 l-3.3,2.9 z" fill="#222" stroke="#000" stroke-width="0.8"/>
<path d="M514.35,411.1 l3.3,-2.9 l3.3,2.9 l-3.3,2.9 z" fill="#222" stroke="#000" stroke-width="0.8"/>
<path d="M522.25,394.3 l3.3,-2.9 l3.3,2.9 l-3.3,2.9 z" fill="#222" stroke="#000" stroke-width="0.8"/>
<path d="M530.15,379.5 l3.3,-2.9 l3.3,2.9 l-3.3,2.9 z" fill="#222" stroke="#000" stroke-width="0.8"/>
<path d="M538.05,366.5 l3.3,-2.9 l3.3,2.9 l-3.3,2.9 z" fill="#222" stroke="#000" stroke-width="0.8"/>
<path d="M545.95,356.1 l3.3,-2.9 l3.3,2.9 l-3.3,2.9 z" fill="#222" stroke="#000" stroke-width="0.8"/>
<path d="M553.85,344 l3.3,-2.9 l3.3,2.9 l-3.3,2.9 z" fill="#222" stroke="#000" stroke-width="0.8"/>
<path d="M561.75,334.7 l3.3,-2.9 l3.3,2.9 l-3.3,2.9 z" fill="#222" stroke="#000" stroke-width="0.8"/>
<path d="M569.65,326.7 l3.3,-2.9 l3.3,2.9 l-3.3,2.9 z" fill="#222" stroke="#000" stroke-width="0.8"/>
<path d="M577.55,319.8 l3.3,-2.9 l3.3,2.9 l-3.3,2.9 z" fill="#222" stroke="#000" stroke-width="0.8"/>
<path d="M585.45,314.2 l3.3,-2.9 l3.3,2.9 l-3.3,2.9 z" fill="#222" stroke="#000" stroke-width="0.8"/>
<path d="M593.35,310.6 l3.3,-2.9 l3.3,2.9 l-3.3,2.9 z" fill="#222" stroke="#000" stroke-width="0.8"/>
<path d="M601.25,307.2 l3.3,-2.9 l3.3,2.9 l-3.3,2.9 z" fill="#222" stroke="#000" stroke-width="0.8"/>
<path d="M609.15,303.7 l3.3,-2.9 l3.3,2.9 l-3.3,2.9 z" fill="#222" stroke="#000" stroke-width="0.8"/>
<path d="M617.05,300.5 l3.3,-2.9 l3.3,2.9 l-3.3,2.9 z" fill="#222" stroke="#000" stroke-width="0.8"/>
<path d="M624.95,298.5 l3.3,-2.9 l3.3,2.9 l-3.3,2.9 z" fill="#222" stroke="#000" stroke-width="0.8"/>
<path d="M632.85,297.1 l3.3,-2.9 l3.3,2.9 l-3.3,2.9 z" fill="#222" stroke="#000" stroke-width="0.8"/>
<path d="M640.75,295.7 l3.3,-2.9 l3.3,2.9 l-3.3,2.9 z" fill="#222" stroke="#000" stroke-width="0.8"/>
<path d="M648.65,294.5 l3.3,-2.9 l3.3,2.9 l-3.3,2.9 z" fill="#222" stroke="#000" stroke-width="0.8"/>
</g>
<rect x="415.2" y="282.4" width="236.9" height="215.3" fill="none" stroke="#000" stroke-width="1.8"/>
<path d="M415.2,497.7L415.2,494.1M415.2,282.4L415.2,286M474.42,497.7L474.42,494.1M474.42,282.4L474.42,286M533.64,497.7L533.64,494.1M533.64,282.4L533.64,286M592.86,497.7L592.86,494.1M592.86,282.4L592.86,286M652.08,497.7L652.08,494.1M652.08,282.4L652.08,286M444.81,497.7L444.81,495.7M444.81,282.4L444.81,284.4M504.03,497.7L504.03,495.7M504.03,282.4L504.03,284.4M563.25,497.7L563.25,495.7M563.25,282.4L563.25,284.4M622.47,497.7L622.47,495.7M622.47,282.4L622.47,284.4M415.2,422.45L419.4,422.45M415.2,347.2L419.4,347.2M415.2,460.07L417.4,460.07M415.2,384.82L417.4,384.82M415.2,309.57L417.4,309.57M652.1,477.28L647.9,477.28M652.1,456.86L647.9,456.86M652.1,436.44L647.9,436.44M652.1,416.02L647.9,416.02M652.1,395.6L647.9,395.6M652.1,375.18L647.9,375.18M652.1,354.76L647.9,354.76M652.1,334.34L647.9,334.34M652.1,313.92L647.9,313.92M652.1,293.5L647.9,293.5M652.1,487.49L649.9,487.49M652.1,467.07L649.9,467.07M652.1,446.65L649.9,446.65M652.1,426.23L649.9,426.23M652.1,405.81L649.9,405.81M652.1,385.39L649.9,385.39M652.1,364.97L649.9,364.97M652.1,344.55L649.9,344.55M652.1,324.13L649.9,324.13M652.1,303.71L649.9,303.71" stroke="#000" stroke-width="1.8" fill="none"/>
<text x="415.2" y="523.2" text-anchor="middle">0</text>
<text x="474.42" y="523.2" text-anchor="middle">20</text>
<text x="533.64" y="523.2" text-anchor="middle">40</text>
<text x="592.86" y="523.2" text-anchor="middle">60</text>
<text x="652.08" y="523.2" text-anchor="middle">80</text>
<text x="409.6" y="498.2" text-anchor="end">0</text>
<text x="409.6" y="428.95" text-anchor="end">100</text>
<text x="409.6" y="353.7" text-anchor="end">200</text>
<text x="656.8" y="497.9">0</text>
<text x="656.8" y="484.28">10</text>
<text x="656.8" y="463.86">20</text>
<text x="656.8" y="443.44">30</text>
<text x="656.8" y="423.02">40</text>
<text x="656.8" y="402.6">50</text>
<text x="656.8" y="382.18">60</text>
<text x="656.8" y="361.76">70</text>
<text x="656.8" y="341.34">80</text>
<text x="656.8" y="320.92">90</text>
<text x="656.8" y="300.5">100</text>
<text class="q" transform="translate(516.93,492) rotate(-90) scale(1.05,1)">Q1:</text>
<text class="q" transform="translate(516.93,466.7) rotate(-90) scale(1.08,1)">30.1</text>
<text class="q" transform="translate(541.5,492) rotate(-90) scale(1.05,1)">Q2:</text>
<text class="q" transform="translate(541.5,466.7) rotate(-90) scale(1.08,1)">38.4</text>
<text class="q" transform="translate(572.89,492) rotate(-90) scale(1.05,1)">Q3:</text>
<text class="q" transform="translate(572.89,466.7) rotate(-90) scale(1.08,1)">49.0</text>
<text class="p" x="421.6" y="303.7">D.</text>
<text x="533.65" y="544.2" text-anchor="middle">WGPA (UF1) [deg]</text>
<text transform="translate(371.5,390.05) rotate(-90)" text-anchor="middle">Number of Fields</text>
<text transform="translate(697.9,390.05) rotate(-90)" text-anchor="middle">Cumulative [%]</text>
</svg></body></html>
